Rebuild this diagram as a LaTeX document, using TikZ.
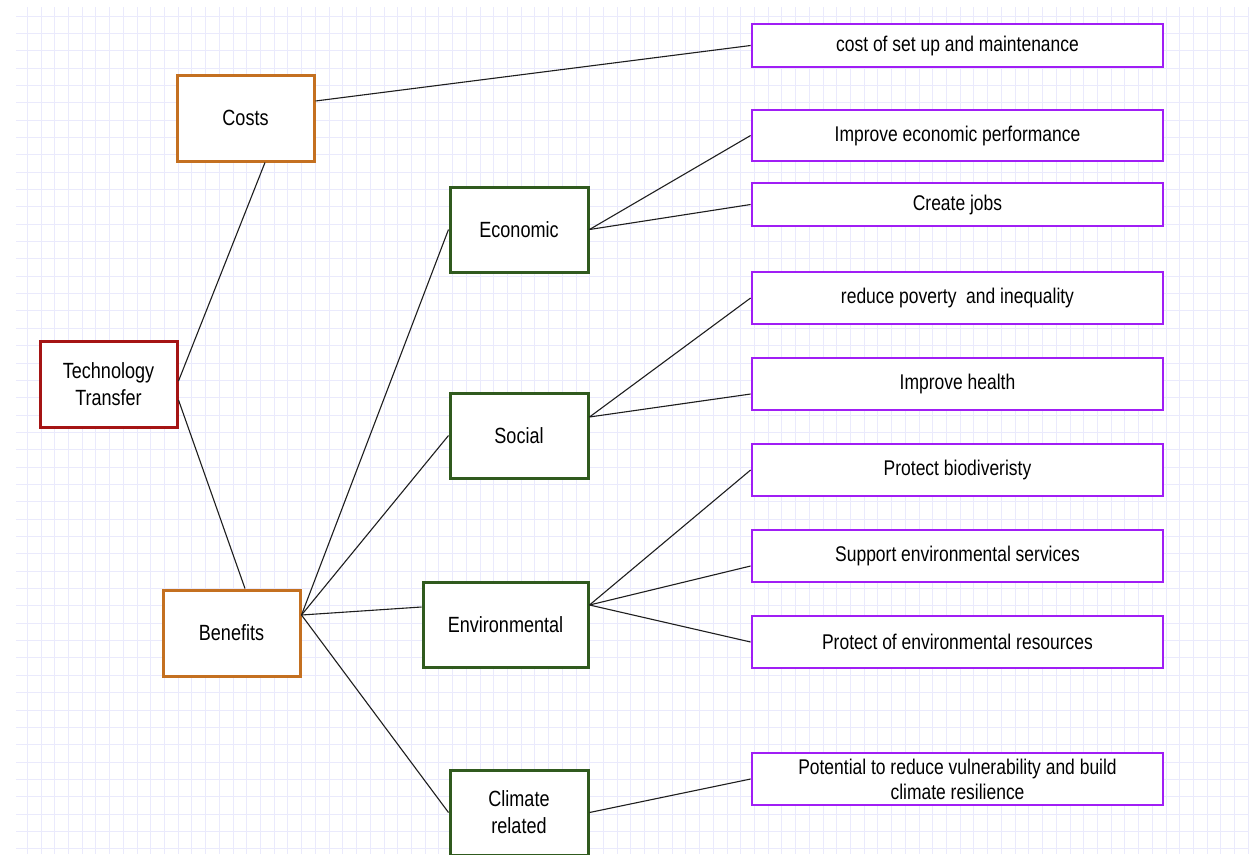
\documentclass[tikz,border=0pt]{standalone}
\usepackage{fontspec}
\setmainfont[FakeStretch=0.82]{Liberation Sans}
\definecolor{gridc}{RGB}{234,234,252}
\definecolor{orangeb}{RGB}{196,112,32}
\definecolor{redb}{RGB}{165,20,20}
\definecolor{greenb}{RGB}{48,90,30}
\definecolor{purpleb}{RGB}{160,30,245}
\definecolor{linec}{RGB}{30,30,30}
\tikzset{
  box/.style={draw, line width=3pt, fill=white, inner sep=0pt, align=center, text=black,
    font=\fontsize{22}{27}\selectfont},
  costbox/.style={box, draw=orangeb, minimum width=137pt, minimum height=86pt},
  rootbox/.style={box, draw=redb, minimum width=137pt, minimum height=86pt},
  catbox/.style={box, draw=greenb, minimum width=138pt, minimum height=85pt},
  leafbox/.style={box, draw=purpleb, line width=2.8pt, minimum width=411pt,
    font=\fontsize{21.3}{25}\selectfont},
  conn/.style={draw=linec, line width=1.1pt}
}
\begin{document}
\begin{tikzpicture}[x=1pt,y=-1pt]
\useasboundingbox (0,0) rectangle (1249,854);
\fill[white] (0,0) rectangle (1249,854);
% grid
\foreach \i in {0,...,89} {
  \draw[gridc, line width=1pt] ({27.3+13.72*\i},7) -- ({27.3+13.72*\i},854);
}
\foreach \j in {0,...,48} {
  \draw[gridc, line width=1pt] (16,{16+17.35*\j}) -- (1249,{16+17.35*\j});
}
% nodes
\node[costbox] (costs) at (245.5,118) {Costs};
\node[rootbox] (tt) at (108.5,384) {Technology\\Transfer};
\node[costbox] (ben) at (231.5,633) {Benefits};
\node[catbox] (eco) at (519,229.5) {Economic};
\node[catbox] (soc) at (519,435.5) {Social};
\node[catbox, minimum width=165pt] (env) at (505.5,624.5) {Environmental};
\node[catbox] (clim) at (519,812.5) {Climate\\related};
\node[leafbox, minimum height=43pt] (l1) at (957.5,45.5) {cost of set up and maintenance};
\node[leafbox, minimum height=51pt] (l2) at (957.5,135.5) {Improve economic performance};
\node[leafbox, minimum height=43pt] (l3) at (957.5,204.5) {Create jobs};
\node[leafbox, minimum height=52pt] (l4) at (957.5,298) {reduce poverty\ \ and inequality};
\node[leafbox, minimum height=52pt] (l5) at (957.5,384) {Improve health};
\node[leafbox, minimum height=52pt] (l6) at (957.5,470) {Protect biodiveristy};
\node[leafbox, minimum height=52pt] (l7) at (957.5,556) {Support environmental services};
\node[leafbox, minimum height=52pt] (l8) at (957.5,642) {Protect of environmental resources};
\node[leafbox, minimum height=52pt] (l9) at (957.5,779) {Potential to reduce vulnerability and build\\climate resilience};
% connectors
\draw[conn] ([yshift=17pt]costs.east) -- (l1.west);
\draw[conn] ([xshift=19.5pt]costs.south) -- ([yshift=3pt]tt.east);
\draw[conn] ([yshift=-16pt]tt.east) -- ([xshift=13.5pt]ben.north);
\coordinate (bp) at ([yshift=18pt]ben.east);
\draw[conn] (bp) -- (eco.west);
\draw[conn] (bp) -- (soc.west);
\draw[conn] (bp) -- ([yshift=17.5pt]env.west);
\draw[conn] (bp) -- (clim.west);
\draw[conn] (eco.east) -- (l2.west);
\draw[conn] (eco.east) -- (l3.west);
\coordinate (sp) at ([yshift=18.5pt]soc.east);
\draw[conn] (sp) -- (l4.west);
\draw[conn] (sp) -- ([yshift=-10pt]l5.west);
\coordinate (ep) at ([yshift=19.5pt]env.east);
\draw[conn] (ep) -- (l6.west);
\draw[conn] (ep) -- ([yshift=-10pt]l7.west);
\draw[conn] (ep) -- (l8.west);
\draw[conn] (clim.east) -- (l9.west);
\end{tikzpicture}
\end{document}
